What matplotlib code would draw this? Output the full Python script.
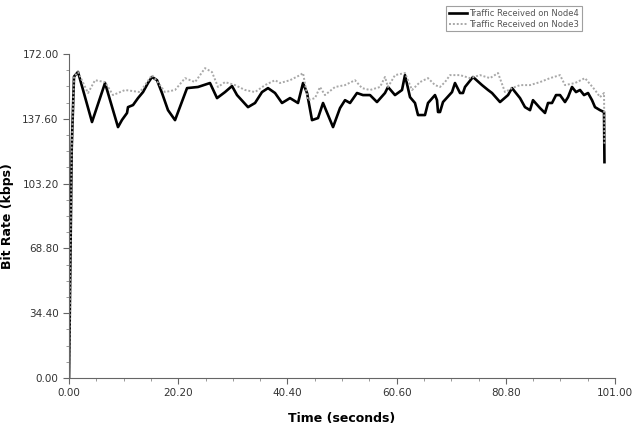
import matplotlib
matplotlib.use("Agg")
import matplotlib.pyplot as plt
from matplotlib.ticker import AutoMinorLocator, FormatStrFormatter
import numpy as np

# traffic received on Node4 (solid black)
node4_t = [0.0, 0.5, 0.92, 1.66, 4.25, 6.66, 9.06, 9.80, 10.73, 10.91, 11.84,
           12.76, 13.69, 14.61, 15.35, 16.28, 17.20, 18.31, 19.61, 21.83,
           23.86, 26.08, 27.38, 28.86, 30.15, 31.08, 33.11, 34.41, 35.70,
           36.81, 38.11, 39.40, 40.88, 42.36, 43.29, 44.03, 44.95, 46.06,
           46.99, 48.84, 50.13, 51.06, 51.98, 53.27, 54.38, 55.68, 56.97,
           58.45, 59.01, 60.30, 61.60, 62.15, 63.08, 64.00, 64.56, 65.85,
           66.41, 67.70, 68.07, 68.26, 68.63, 69.18, 70.85, 71.40, 72.33,
           72.88, 73.25, 74.73, 76.40, 77.51, 78.25, 79.73, 81.21, 81.95,
           83.43, 84.35, 85.28, 85.83, 87.13, 88.05, 88.61, 89.35, 90.09,
           90.83, 91.75, 92.31, 93.05, 93.79, 94.53, 95.27, 96.01, 96.75,
           97.30, 98.23, 98.97, 99.05]
node4_v = [0.0, 122.0, 160.0, 162.5, 135.9, 156.6, 133.2, 137.0, 140.7, 143.8,
           144.9, 148.6, 151.8, 156.6, 159.8, 158.1, 151.3, 142.2, 136.9,
           153.9, 154.5, 156.6, 148.6, 151.8, 155.0, 150.2, 143.8, 146.0,
           151.8, 153.9, 151.3, 146.0, 148.6, 146.0, 156.6, 151.3, 136.9,
           138.0, 146.0, 133.2, 143.3, 147.5, 146.0, 151.3, 150.2, 150.2,
           146.5, 151.3, 154.5, 150.2, 152.9, 160.8, 149.1, 146.0, 139.6,
           139.6, 146.0, 150.2, 147.5, 141.2, 141.2, 146.5, 151.8, 156.6,
           151.3, 151.3, 154.5, 159.8, 155.5, 152.9, 151.3, 146.5, 150.2,
           153.9, 148.6, 143.8, 142.2, 147.5, 143.3, 140.7, 146.0, 146.0,
           150.2, 150.2, 146.5, 149.1, 154.5, 151.8, 152.9, 150.2, 151.3,
           147.5, 143.8, 142.2, 141.2, 114.6]

# traffic received on Node3 (grey dotted)
node3_t = [0.0, 0.5, 0.92, 1.66, 3.51, 4.81, 6.66, 8.14, 10.36, 13.13, 15.35,
           16.83, 17.76, 19.61, 21.46, 23.31, 24.24, 25.16, 26.45, 27.56,
           28.86, 30.71, 32.56, 34.41, 36.26, 38.11, 39.03, 40.88, 42.73,
           43.29, 44.21, 45.51, 46.43, 47.35, 49.21, 51.06, 52.90, 54.20,
           55.68, 57.53, 58.45, 59.01, 60.30, 62.15, 63.45, 64.93, 66.41,
           67.70, 68.63, 69.55, 70.48, 72.33, 74.18, 76.03, 77.88, 79.36,
           80.65, 81.95, 83.43, 85.28, 87.13, 88.98, 90.83, 91.75, 93.60,
           95.45, 97.30, 98.23, 98.97, 99.05]
node3_v = [0.0, 122.0, 160.0, 162.4, 151.3, 158.1, 157.1, 150.2, 152.9, 151.8,
           160.8, 155.5, 151.8, 152.9, 159.2, 157.1, 160.8, 164.5, 162.4,
           154.5, 157.1, 155.5, 152.9, 151.8, 155.5, 158.1, 156.6, 158.1,
           160.8, 161.9, 147.5, 148.6, 154.5, 150.2, 154.5, 155.5, 158.1,
           153.9, 152.9, 154.5, 159.8, 154.5, 160.8, 161.9, 152.9, 157.1,
           159.2, 155.5, 154.5, 157.1, 160.8, 160.8, 159.2, 160.8, 159.2,
           161.9, 151.8, 153.9, 155.5, 155.5, 157.1, 159.2, 160.8, 155.5,
           156.6, 159.2, 152.9, 149.1, 151.3, 124.0]

x_ticks = [0.0, 20.2, 40.4, 60.6, 80.8, 101.0]
y_ticks = [0.0, 34.4, 68.8, 103.2, 137.6, 172.0]

fig = plt.figure(figsize=(6.35, 4.24), dpi=100)
ax = fig.add_axes([0.1087, 0.1085, 0.8598, 0.7641])

ax.plot(node4_t, node4_v, color="black", linewidth=1.9,
        label="Traffic Received on Node4")
ax.plot(node3_t, node3_v, color="#a8a8a8", linewidth=1.4,
        linestyle=(0, (1, 1)), label="Traffic Received on Node3")

ax.set_xlim(0, 101)
ax.set_ylim(0, 172)
ax.set_xticks(x_ticks)
ax.set_yticks(y_ticks)
ax.xaxis.set_major_formatter(FormatStrFormatter("%.2f"))
ax.yaxis.set_major_formatter(FormatStrFormatter("%.2f"))
ax.xaxis.set_minor_locator(AutoMinorLocator(4))
ax.yaxis.set_minor_locator(AutoMinorLocator(4))
ax.tick_params(which="major", direction="out", length=4, width=0.8,
               color="#666666", labelsize=7.5, labelcolor="#333333")
ax.tick_params(which="minor", direction="out", length=2.5, width=0.6,
               color="#888888")

for side in ["top", "right"]:
    ax.spines[side].set_visible(False)
for side in ["left", "bottom"]:
    ax.spines[side].set_color("#666666")
    ax.spines[side].set_linewidth(0.8)

ax.set_xlabel("Time (seconds)", fontsize=9, fontweight="bold")
ax.set_ylabel("Bit Rate (kbps)", fontsize=9, fontweight="bold")
ax.xaxis.set_label_coords(0.5, -0.105)
ax.yaxis.set_label_coords(-0.1, 0.5)

leg = fig.legend(loc="upper right", bbox_to_anchor=(0.917, 0.985),
                 fontsize=6, frameon=True, fancybox=False, handlelength=2.2,
                 handletextpad=0.3, borderpad=0.35, labelspacing=0.15,
                 borderaxespad=0)
leg.get_frame().set_edgecolor("#888888")
leg.get_frame().set_linewidth(0.8)
for text in leg.get_texts():
    text.set_color("#555555")

fig.savefig("out.png", dpi=100)
